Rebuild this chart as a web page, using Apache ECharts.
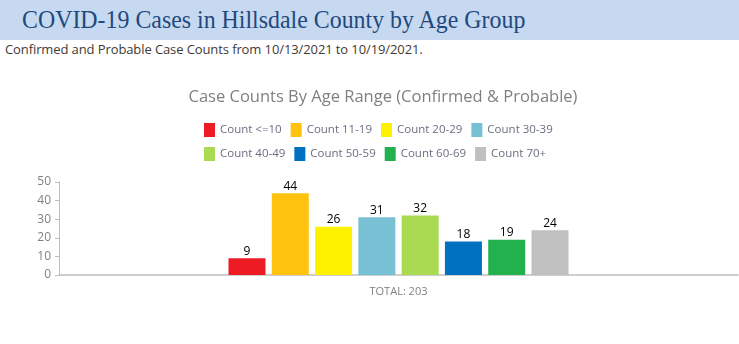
<!DOCTYPE html>
<html>
<head>
<meta charset="utf-8">
<script src="https://cdn.jsdelivr.net/npm/echarts@6/dist/echarts.min.js"></script>
<style>
html,body{margin:0;padding:0;width:739px;height:344px;overflow:hidden;background:#fff;}
#band{position:absolute;left:0;top:0;width:739px;height:40px;background:#c6d9f0;}
#band span{position:absolute;left:22px;top:6px;font-family:"Liberation Serif",serif;font-size:25px;color:#1f497d;white-space:nowrap;display:inline-block;transform:scaleX(0.955);transform-origin:0 0;}
#sub{position:absolute;left:5px;top:40px;font-family:"Open Sans","Liberation Sans",sans-serif;font-size:13px;color:#3f3a35;white-space:nowrap;letter-spacing:-0.1px;}
#chart{position:absolute;left:0;top:0;width:739px;height:344px;}
</style>
</head>
<body>
<div id="band"><span>COVID-19 Cases in Hillsdale County by Age Group</span></div>
<div id="sub">Confirmed and Probable Case Counts from 10/13/2021 to 10/19/2021.</div>
<div id="chart"></div>
<script>
const categories = ["TOTAL: 203"];
const seriesNames = ["Count <=10","Count 11-19","Count 20-29","Count 30-39","Count 40-49","Count 50-59","Count 60-69","Count 70+"];
const seriesValues = [9, 44, 26, 31, 32, 18, 19, 24];
const seriesColors = ["#ed1c24","#ffc20e","#fff200","#78c0d4","#a9da52","#0070c0","#22b14c","#c0c0c0"];
const yTicks = [0, 10, 20, 30, 40, 50];

const chart = echarts.init(document.getElementById('chart'));
const series = seriesNames.map((name, i) => ({
  name: name,
  type: 'bar',
  data: [seriesValues[i]],
  barWidth: 37,
  barGap: '17%',
  itemStyle: { color: seriesColors[i] },
  label: { show: true, position: 'top', color: '#000', fontSize: 12, fontFamily: 'Open Sans', distance: 1 }
}));
const legendText = { fontFamily: 'Open Sans', fontSize: 11.5, color: '#6a6f80', width: 64, overflow: 'none' };
chart.setOption({
  animation: false,
  title: {
    text: 'Case Counts By Age Range (Confirmed & Probable)',
    left: 378, top: 84, textAlign: 'center',
    textStyle: { fontFamily: 'Open Sans', fontSize: 16.5, fontWeight: 'normal', color: '#808080' }
  },
  legend: [
    { data: seriesNames.slice(0,4), left: 199, top: 118, itemWidth: 11, itemHeight: 14, itemGap: 9, icon: 'rect', textStyle: legendText },
    { data: seriesNames.slice(4), left: 199, top: 142, itemWidth: 11, itemHeight: 14, itemGap: 9, icon: 'rect', textStyle: legendText }
  ],
  grid: { left: 59, right: 1, top: 182, bottom: 69, containLabel: false },
  xAxis: {
    type: 'category', data: categories,
    axisLine: { lineStyle: { color: '#bfbfbf', width: 1.5 } },
    axisTick: { show: false },
    axisLabel: { color: '#808080', fontFamily: 'Open Sans', fontSize: 11, margin: 11 }
  },
  yAxis: {
    type: 'value', min: yTicks[0], max: yTicks[yTicks.length-1], interval: 10,
    axisLine: { show: true, lineStyle: { color: '#bfbfbf' } },
    axisTick: { show: true, length: 4, lineStyle: { color: '#bfbfbf' } },
    splitLine: { show: false },
    axisLabel: { color: '#808080', fontFamily: 'Open Sans', fontSize: 12, margin: 8 }
  },
  series: series
});
</script>
</body>
</html>
